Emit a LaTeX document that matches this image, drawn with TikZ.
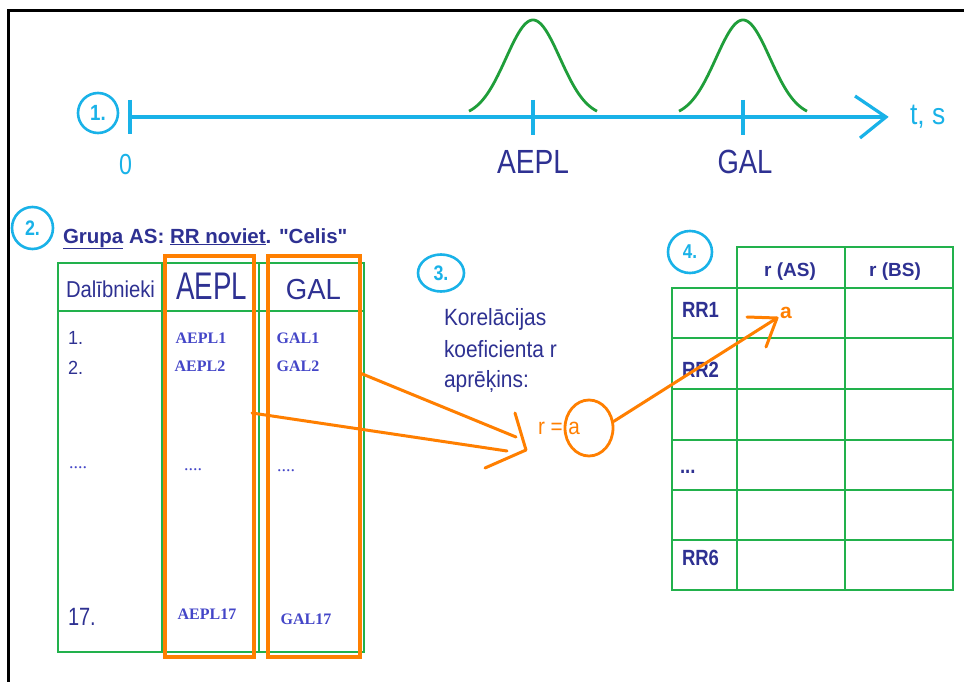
\documentclass[tikz,border=0pt]{standalone}
\usepackage{fontspec}
\setmainfont{Liberation Sans}
\newfontfamily\timesf{Liberation Serif}
\usepackage{graphicx}
\usetikzlibrary{shapes.geometric}

\definecolor{cyanc}{RGB}{25,178,232}
\definecolor{navy}{RGB}{46,49,146}
\definecolor{entryblue}{RGB}{68,70,200}
\definecolor{tgreen}{RGB}{34,177,76}
\definecolor{cgreen}{RGB}{31,158,58}
\definecolor{orng}{RGB}{255,127,0}

\newcommand\fsz[1]{\fontsize{#1}{#1}\selectfont}
\newcommand\nw[2]{\scalebox{#1}[1]{#2}}

\begin{document}
\begin{tikzpicture}[x=1pt,y=-1pt,
  lbl/.style={inner sep=0pt, outer sep=0pt},
  numcirc/.style={draw=cyanc, line width=2.6pt, ellipse, inner sep=0pt, text=cyanc, font=\bfseries},
  axisline/.style={draw=cyanc, line width=3.2pt},
  bell/.style={draw=cgreen, line width=2.8pt, line join=round},
  tgrid/.style={draw=tgreen, line width=2.8pt, line cap=rect},
  obox/.style={draw=orng, line width=3.4pt},
  oarrow/.style={draw=orng, line width=3pt, line join=round, line cap=round},
  entry/.style={lbl, text=entryblue, font={\timesf\bfseries\fsz{16}}},
  hd/.style={lbl, text=navy},
]
\useasboundingbox (0,0) rectangle (964,682);
\fill[white] (0,0) rectangle (964,682);

% frame
\draw[line width=3pt] (8,682) -- (8,11) -- (964,11);

% ---------- 1. time axis ----------
\node[numcirc, minimum width=40, minimum height=40] (c1) at (98,113) {\fsz{22}\nw{0.85}{1.}};
\coordinate (ax0) at (130,117);
\coordinate (axend) at (886,117);
\draw[axisline] (ax0) -- (axend);
\draw[axisline, line join=miter] (855,96) -- (axend) -- (860,138);
\draw[axisline] (130,100) -- (130,134);
\draw[axisline] (533,100) -- (533,135);
\draw[axisline] (743,100) -- (743,135);

\draw[bell] plot[domain=-64:64, samples=80] ({533+\x},{117-97*exp(-0.5*(\x/27)*(\x/27))});
\draw[bell] plot[domain=-64:64, samples=80] ({743+\x},{117-97*exp(-0.5*(\x/27)*(\x/27))});

\node[lbl, text=cyanc, anchor=base] (t0) at (125.5,175) {\fsz{29}\nw{0.8}{0}};
\node[hd, anchor=base] (tA) at (533,174) {\fsz{33.5}\nw{0.84}{AEPL}};
\node[hd, anchor=base] (tG) at (745,174) {\fsz{33.5}\nw{0.82}{GAL}};
\node[lbl, text=cyanc, anchor=base west] (ts) at (910,125) {\fsz{30}\nw{0.88}{t, s}};

% ---------- 2. data table ----------
\node[numcirc, minimum width=41, minimum height=42] (c2) at (32.5,228) {\fsz{21}\nw{0.85}{2.}};
\node[hd, anchor=base west] (head) at (63,243)
  {\fsz{20.5}\bfseries\underline{Grupa} AS: \underline{RR noviet}. \textquotedbl Celis\textquotedbl};

\draw[tgrid] (58,263) rectangle (364,652);
\draw[tgrid] (58,311) -- (364,311);
\draw[tgrid] (162,263) -- (162,652);
\draw[tgrid] (259,263) -- (259,652);
\draw[obox] (165,256) rectangle (254,657);
\draw[obox] (268,256) rectangle (360,657);

\node[hd, anchor=base] (hD) at (110.5,297) {\fsz{23}\nw{0.88}{Dalībnieki}};
\node[hd, anchor=base] (hA) at (211.5,299) {\fsz{38.5}\nw{0.72}{AEPL}};
\node[hd, anchor=base] (hG) at (313.5,299) {\fsz{29}\nw{0.95}{GAL}};

\node[hd, anchor=base west] (n1) at (68,344) {\fsz{19}\nw{0.95}{1.}};
\node[hd, anchor=base west] (n2) at (68,374) {\fsz{19}\nw{0.95}{2.}};
\node[hd, anchor=base west] (n17) at (68,625) {\fsz{25}\nw{0.8}{17.}};

\node[entry] (a1) at (201,338) {AEPL1};
\node[entry] (a2) at (200,366) {AEPL2};
\node[entry] (g1) at (298,338) {GAL1};
\node[entry] (g2) at (298,366) {GAL2};
\node[entry] (a17) at (207,614) {AEPL17};
\node[entry] (g17) at (306,619) {GAL17};

\node[lbl, text=entryblue, anchor=base, font={\timesf\fsz{18}}] (d1) at (78,468) {....};
\node[lbl, text=entryblue, anchor=base, font={\timesf\fsz{18}}] (d2) at (193,470) {....};
\node[lbl, text=entryblue, anchor=base, font={\timesf\fsz{18}}] (d3) at (286,471) {....};

% ---------- 3. correlation ----------
\node[numcirc, minimum width=46, minimum height=37] (c3) at (441,273) {\fsz{21}\nw{0.85}{3.}};
\node[hd, anchor=base west] (k1) at (444,325) {\fsz{23.5}\nw{0.89}{Korelācijas}};
\node[hd, anchor=base west] (k2) at (444,357) {\fsz{23.5}\nw{0.89}{koeficienta r}};
\node[hd, anchor=base west] (k3) at (444,387) {\fsz{23.5}\nw{0.89}{aprēķins:}};

\node[lbl, text=orng, anchor=base west] (req) at (538,434) {\fsz{23}\nw{0.9}{r = a}};
\node[draw=orng, line width=2.8pt, ellipse, minimum width=48, minimum height=56, inner sep=0pt] (ca) at (589,428) {};

% arrows into the formula
\coordinate (fromG) at (360,373);
\coordinate (endG) at (516,437);
\coordinate (fromA) at (252,413);
\coordinate (endA) at (507,451);
\coordinate (tip3) at (526,450);
\draw[oarrow] (fromG) -- (endG);
\draw[oarrow] (fromA) -- (endA);
\draw[oarrow] (515,413) -- (tip3) -- (485,468);

% ---------- 4. results table ----------
\node[numcirc, minimum width=44, minimum height=42] (c4) at (690,252) {\fsz{20}\nw{0.85}{4.}};
\foreach \yy in {288,338,389,440,490,540,590}
  \draw[tgrid] (672,\yy) -- (953,\yy);
\draw[tgrid] (737,247) -- (953,247);
\draw[tgrid] (672,288) -- (672,590);
\foreach \xx in {737,845,953}
  \draw[tgrid] (\xx,247) -- (\xx,590);

\node[hd, font={\bfseries\fsz{19}}] (rAS) at (790,272) {r (AS)};
\node[hd, font={\bfseries\fsz{19}}] (rBS) at (895,272) {r (BS)};
\node[hd, anchor=west] (rr1) at (682,310) {\bfseries\fsz{22}\nw{0.84}{RR1}};
\node[hd, anchor=west] (rr2) at (682,370) {\bfseries\fsz{22}\nw{0.84}{RR2}};
\node[hd, anchor=base west] (rdots) at (680,473) {\bfseries\fsz{22}\nw{0.84}{...}};
\node[hd, anchor=west] (rr6) at (682,558) {\bfseries\fsz{22}\nw{0.84}{RR6}};

\node[lbl, text=orng, font={\bfseries\fsz{21}}] (aval) at (786,313) {a};

% arrow from the formula into the table
\coordinate (tip4) at (777,318);
\draw[oarrow] (ca.15) -- (tip4);
\draw[oarrow] (747,317) -- (tip4) -- (766,347);
\end{tikzpicture}
\end{document}
